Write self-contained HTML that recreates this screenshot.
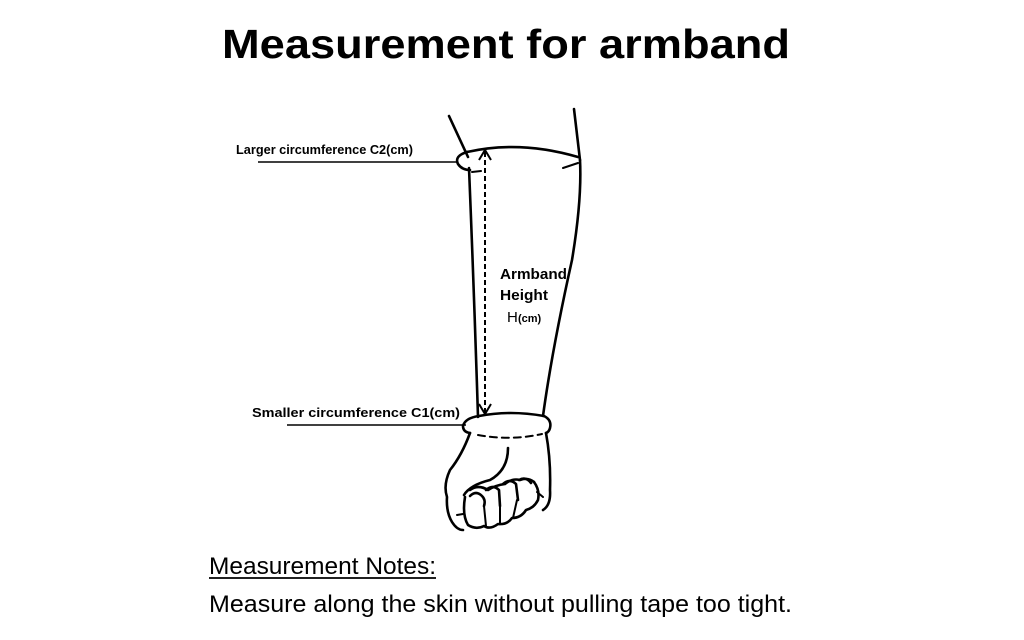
<!DOCTYPE html>
<html><head><meta charset="utf-8"><style>
html,body{margin:0;padding:0;background:#fff;}
svg{display:block}
text{font-family:"Liberation Sans",sans-serif;fill:#000}
</style></head><body>
<svg width="1024" height="640" viewBox="0 0 1024 640" xmlns="http://www.w3.org/2000/svg">
<text x="222" y="58" font-size="41" font-weight="bold" textLength="568" lengthAdjust="spacingAndGlyphs">Measurement for armband</text>

<text x="236" y="154" font-size="12.5" font-weight="bold" textLength="177" lengthAdjust="spacingAndGlyphs">Larger circumference C2(cm)</text>
<line x1="258" y1="162" x2="458" y2="162" stroke="#000" stroke-width="1.6"/>
<text x="252" y="417" font-size="12.5" font-weight="bold" textLength="208" lengthAdjust="spacingAndGlyphs">Smaller circumference C1(cm)</text>
<line x1="287" y1="425" x2="466" y2="425" stroke="#000" stroke-width="1.6"/>

<g fill="none" stroke="#000" stroke-width="2.6" stroke-linecap="round" stroke-linejoin="round">
<path d="M449 116 L468 157"/>
<path d="M574 109 L580 160"/>
<path d="M467 152 Q520 140 578 157"/>
<path d="M467 152 Q454 156 458 164 Q462 170 470 170"/>
<path d="M472 172 L481 171 M563 168 L578 163" stroke-width="2"/>
<path d="M469 168 Q474 290 478 417"/>
<path d="M580 160 Q582 200 572 260 Q552 350 543 416"/>
<path d="M479 416 Q510 410 544 416"/>
<path d="M479 416 Q465 418 463 426 Q463 432 470 433"/>
<path d="M544 416 Q552 420 550 428 Q549 432 546 433"/>
<path d="M478 435 Q510 441 542 434" stroke-dasharray="7,5" stroke-width="2"/>
<path d="M470 433 Q462 455 450 470 Q443 485 447 497 Q446 512 452 522 Q457 530 463 530"/>
<path d="M546 433 Q551 460 550 490 Q551 505 543 510"/>
<path d="M508 448 Q508 470 490 480 Q470 485 464 495"/>
<path d="M470 490 Q478 484 488 490 Q496 485 505 484 Q512 478 520 480 Q528 477 534 482"/>
<path d="M465 497 Q462 515 468 525 Q476 530 484 526 Q490 530 498 524 Q507 525 512 518 Q521 518 526 510 Q534 508 538 500 Q540 490 534 482"/>
<path d="M470 496 Q476 490 482 496 Q486 500 484 506"/>
<path d="M486 490 Q493 484 499 490 L500 506"/>
<path d="M503 484 Q510 478 516 484 L518 500"/>
<path d="M519 480 Q526 476 531 483"/>
<path d="M484 506 L486 526 M500 504 L500 524 M517 500 L513 518" stroke-width="2"/>
<path d="M457 515 L463 514 M537 492 L543 497" stroke-width="2"/>
</g>
<g stroke="#000" stroke-width="2" fill="none">
<line x1="485" y1="152" x2="485" y2="412" stroke-dasharray="5,3"/>
<path d="M479 160 L485 150 L491 160"/>
<path d="M479 404 L485 414 L491 404"/>
</g>

<text x="500" y="279" font-size="15" font-weight="bold" textLength="67" lengthAdjust="spacingAndGlyphs">Armband</text>
<text x="500" y="300" font-size="15" font-weight="bold" textLength="48" lengthAdjust="spacingAndGlyphs">Height</text>
<text x="507" y="322" font-size="15">H</text>
<text x="518" y="322" font-size="11" font-weight="bold">(cm)</text>

<text x="209" y="574" font-size="24" textLength="227" lengthAdjust="spacingAndGlyphs">Measurement Notes:</text>
<line x1="209" y1="578" x2="436" y2="578" stroke="#000" stroke-width="1.8"/>
<text x="209" y="612" font-size="24" textLength="583" lengthAdjust="spacingAndGlyphs">Measure along the skin without pulling  tape too tight.</text>
</svg>
</body></html>
